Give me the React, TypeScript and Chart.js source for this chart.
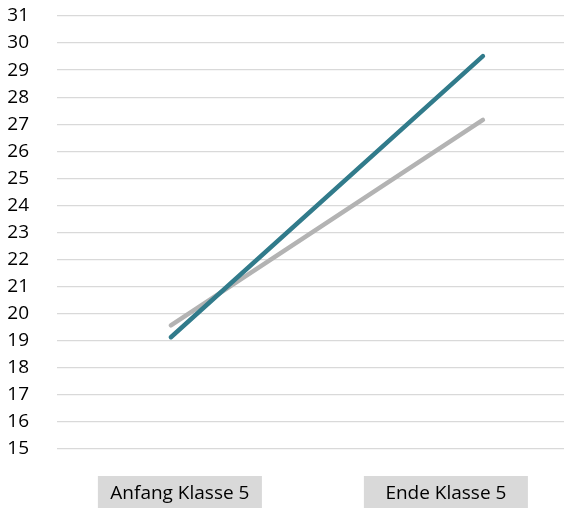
import React, { useEffect, useRef } from "react";
import { Chart, registerables } from "chart.js";

Chart.register(...registerables);

const categories = ["Anfang Klasse 5", "Ende Klasse 5"];
const tealSeries = [19.13, 29.52];
const graySeries = [19.57, 27.16];
const yTicks = [15, 16, 17, 18, 19, 20, 21, 22, 23, 24, 25, 26, 27, 28, 29, 30, 31];

const FONT = "'Open Sans', sans-serif";

const labelPlugin = {
  id: "boxedCategoryLabels",
  afterDraw(chart: any) {
    const { ctx, chartArea } = chart;
    const xl = chart.scales.xl;
    ctx.save();
    ctx.font = `19px ${FONT}`;
    ctx.textAlign = "center";
    ctx.textBaseline = "middle";
    categories.forEach((c, i) => {
      const cx = xl.getPixelForValue(i);
      const top = chartArea.bottom + 27;
      const w = 164;
      ctx.fillStyle = "#D9D9D9";
      ctx.fillRect(cx - w / 2, top, w, 40);
      ctx.fillStyle = "#000000";
      ctx.fillText(c, cx, top + 18);
    });
    ctx.restore();
  },
};

export default function App() {
  const ref = useRef<HTMLCanvasElement>(null);
  useEffect(() => {
    document.body.style.margin = "0";
    const chart = new Chart(ref.current!, {
      type: "line",
      data: {
        datasets: [
          {
            label: "A",
            data: tealSeries.map((v, i) => ({ x: i, y: v })),
            borderColor: "#317B8B",
            borderWidth: 4.5,
            borderCapStyle: "round",
            pointRadius: 0,
            fill: false,
          },
          {
            label: "B",
            data: graySeries.map((v, i) => ({ x: i, y: v })),
            borderColor: "#B3B3B3",
            borderWidth: 4.5,
            borderCapStyle: "round",
            pointRadius: 0,
            fill: false,
          },
        ],
      },
      options: {
        animation: false,
        responsive: false,
        layout: { padding: { top: 16, bottom: 59, left: 0, right: 0 } },
        plugins: { legend: { display: false }, tooltip: { enabled: false } },
        scales: {
          x: { type: "linear", display: false, min: -0.365, max: 1.26 },
          xl: { type: "linear", display: false, min: -0.462, max: 1.444 },
          y: {
            min: 15,
            max: 31,
            afterBuildTicks: (s: any) => {
              s.ticks = yTicks.map((v) => ({ value: v }));
            },
            afterFit: (s: any) => {
              s.width = 57;
              s.paddingTop = 0;
              s.paddingBottom = 0;
            },
            border: { display: false },
            grid: { color: "#D9D9D9", lineWidth: 1.3, drawTicks: false },
            ticks: {
              padding: 28,
              color: "#000000",
              font: { family: FONT, size: 19 },
            },
          },
        },
      },
      plugins: [labelPlugin],
    } as any);
    return () => chart.destroy();
  }, []);
  return (
    <div style={{ width: 564, height: 508 }}>
      <canvas ref={ref} width={564} height={508} style={{ width: 564, height: 508 }} />
    </div>
  );
}
